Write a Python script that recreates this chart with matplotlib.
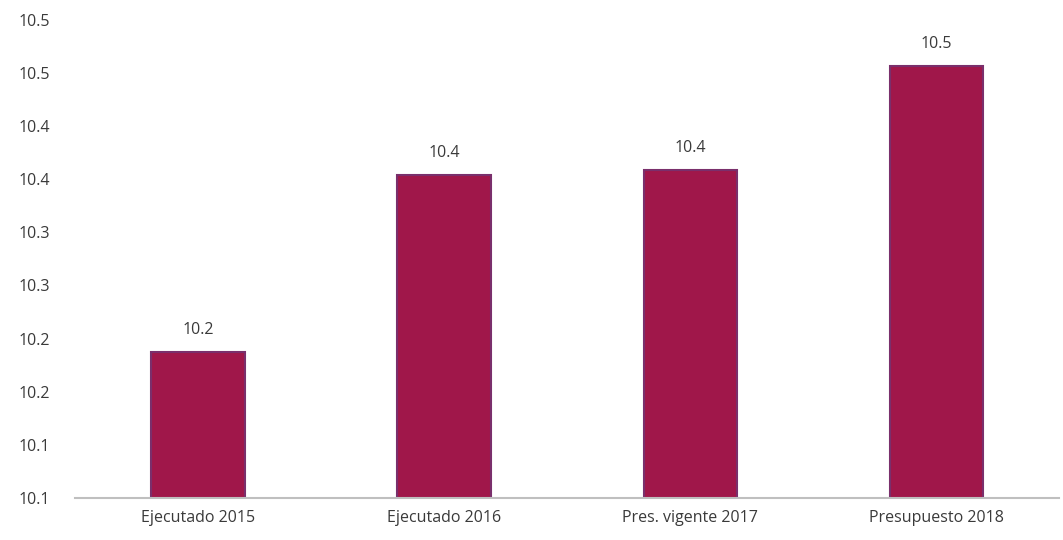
import matplotlib
matplotlib.use("Agg")
import matplotlib.pyplot as plt
import numpy as np

CATEGORIES = ["Ejecutado 2015", "Ejecutado 2016", "Pres. vigente 2017", "Presupuesto 2018"]
VALUES = [10.237, 10.404, 10.409, 10.507]
VALUE_LABELS = ["10.2", "10.4", "10.4", "10.5"]

Y_TICKS = [10.10, 10.15, 10.20, 10.25, 10.30, 10.35, 10.40, 10.45, 10.50, 10.55]
Y_TICK_LABELS = ["10.1", "10.1", "10.2", "10.2", "10.3", "10.3", "10.4", "10.4", "10.5", "10.5"]

BAR_COLOR = "#A0174A"
EDGE_COLOR = "#7A2F6C"
TEXT_COLOR = "#3A3A3A"

plt.rcParams["font.family"] = ["Open Sans", "DejaVu Sans"]

fig = plt.figure(figsize=(10.63, 5.40), dpi=100)
ax = fig.add_axes([0.0706, 0.078, 0.926, 0.885])

x = np.arange(len(CATEGORIES))
rects = ax.bar(x, VALUES, width=0.38, color=BAR_COLOR, edgecolor=EDGE_COLOR, linewidth=1.5)
ax.bar_label(rects, labels=VALUE_LABELS, padding=10, fontsize=11.5, color=TEXT_COLOR)

ax.set_xlim(-0.5, len(CATEGORIES) - 0.5)
ax.set_ylim(10.1, 10.55)
ax.set_yticks(Y_TICKS, Y_TICK_LABELS)
ax.set_xticks(x, CATEGORIES)

ax.tick_params(axis="y", length=0, pad=18, labelsize=11.5, labelcolor=TEXT_COLOR)
ax.tick_params(axis="x", length=0, pad=9, labelsize=11.5, labelcolor=TEXT_COLOR)

for side in ["top", "right", "left"]:
    ax.spines[side].set_visible(False)
ax.spines["bottom"].set_color("#BFBFBF")
ax.spines["bottom"].set_linewidth(1.5)

plt.savefig("out.png", dpi=100)
